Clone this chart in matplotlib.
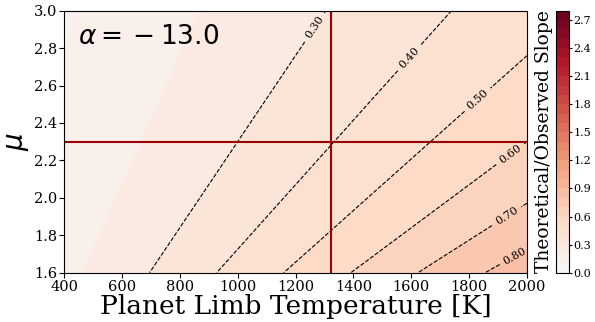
import numpy as np
import matplotlib
matplotlib.use("Agg")
import matplotlib.pyplot as plt
from matplotlib.colors import Normalize

plt.rcParams['font.family'] = ['DejaVu Serif']
plt.rcParams['mathtext.fontset'] = 'dejavusans'

# Parameter ranges
temp_range = [400, 2000]          # planet limb temperature [K]
mu_range = [1.6, 3.0]             # mean molecular weight
slope_coeff = 6.9e-4              # ratio per (K / mu)
alpha_value = -13.0

# Reference point (cross-hair)
temp_ref = 1322
mu_ref = 2.3

# Contour settings
fill_levels = np.round(np.arange(0.0, 2.81, 0.1), 2)
line_levels = [0.30, 0.40, 0.50, 0.60, 0.70, 0.80]
label_temps = [1256, 1578, 1826, 1939, 1918, 1958]
label_mus = [2.92, 2.77, 2.53, 2.24, 1.93, 1.69]
cbar_ticks = [0.0, 0.3, 0.6, 0.9, 1.2, 1.5, 1.8, 2.1, 2.4, 2.7]

T = np.linspace(temp_range[0], temp_range[1], 400)
MU = np.linspace(mu_range[0], mu_range[1], 400)
TT, MM = np.meshgrid(T, MU)
ratio = slope_coeff * TT / MM

fig = plt.figure(figsize=(5.95, 3.22), dpi=100)
ax = fig.add_axes([0.1076, 0.1531, 0.7781, 0.8137])
cax = fig.add_axes([0.9345, 0.1531, 0.0210, 0.8137])

cf = ax.contourf(TT, MM, ratio, levels=fill_levels, cmap='RdBu_r',
                 norm=Normalize(vmin=-2.8, vmax=2.8))
cs = ax.contour(TT, MM, ratio, levels=line_levels, colors='black',
                linestyles='--', linewidths=0.8)
ax.clabel(cs, fmt='%.2f', fontsize=8, inline=True,
          manual=list(zip(label_temps, label_mus)))

ax.axvline(temp_ref, color='#9b0000', lw=1.5)
ax.axhline(mu_ref, color='#9b0000', lw=1.5)

ax.set_xlim(temp_range)
ax.set_ylim(mu_range)
ax.set_xticks(np.arange(400, 2001, 200))
ax.set_yticks(np.round(np.arange(1.6, 3.01, 0.2), 1))
ax.tick_params(labelsize=10.5, pad=1.5, length=3.5)
ax.set_xlabel('Planet Limb Temperature [K]', fontsize=19, labelpad=0)
ax.set_ylabel(r'$\mu$', fontsize=20, labelpad=2)

ax.text(0.03, 0.9, r'$\alpha = {} - %.1f$' % abs(alpha_value),
        transform=ax.transAxes, fontsize=19, va='center', ha='left')

cb = fig.colorbar(cf, cax=cax, ticks=cbar_ticks)
cb.ax.tick_params(labelsize=8, length=2.5, pad=1)
cb.ax.set_yticklabels([f'{t:.1f}' for t in cbar_ticks])
cb.ax.yaxis.set_label_position('left')
cb.set_label('Theoretical/Observed Slope', fontsize=13.5, labelpad=2)

fig.savefig('out.png', dpi=100)
